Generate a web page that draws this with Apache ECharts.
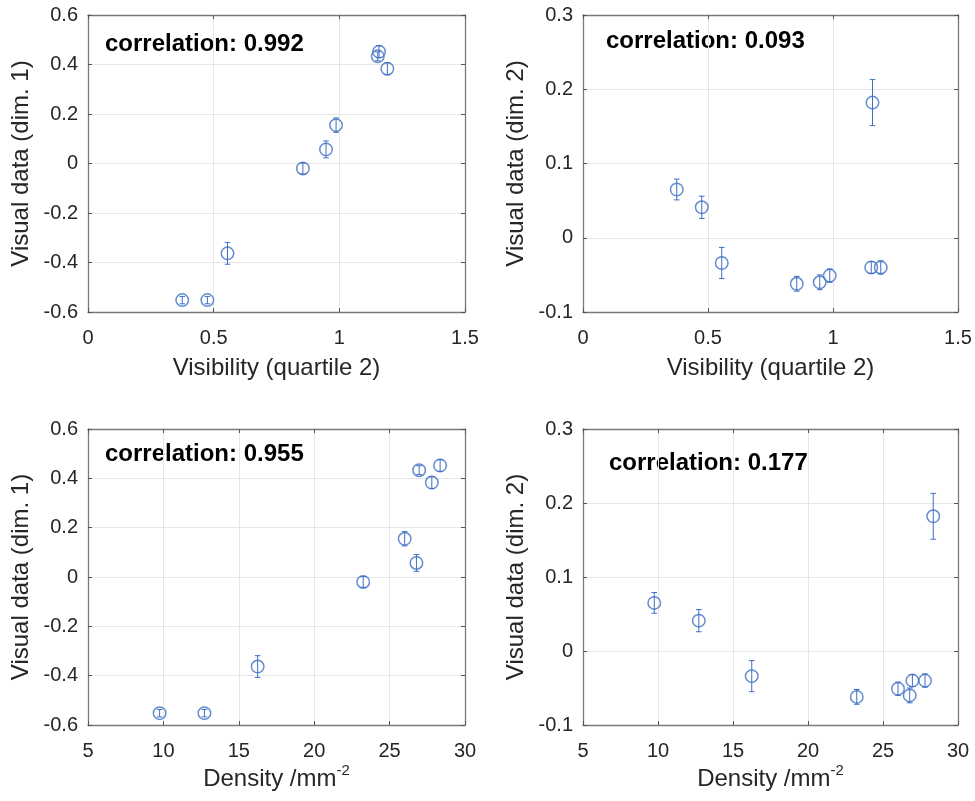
<!DOCTYPE html>
<html>
<head>
<meta charset="utf-8">
<script src="https://cdn.jsdelivr.net/npm/echarts@6/dist/echarts.min.js"></script>
<style>
html, body { margin:0; padding:0; background:#fff; }
#main { width:975px; height:801px; }
</style>
</head>
<body>
<div id="main"></div>
<script type="text/javascript">
// values (9 samples)
var visibility = [0.375, 0.475, 0.555, 0.855, 0.947, 0.987, 1.153, 1.158, 1.191];
var density    = [9.75, 12.72, 16.25, 23.25, 26.78, 26.0, 26.96, 28.35, 27.8];
var dim1       = [-0.552, -0.552, -0.363, -0.020, 0.057, 0.155, 0.433, 0.452, 0.383];
var dim1Err    = [0.015, 0.015, 0.044, 0.022, 0.034, 0.029, 0.018, 0.024, 0.024];
var dim2       = [0.065, 0.041, -0.034, -0.062, -0.060, -0.051, -0.040, 0.182, -0.040];
var dim2Err    = [0.014, 0.015, 0.021, 0.010, 0.010, 0.009, 0.008, 0.031, 0.009];
var corrLabels = ['correlation: 0.992', 'correlation: 0.093', 'correlation: 0.955', 'correlation: 0.177'];

var blue = '#3f6fc3';
var font = 'Liberation Sans, Arial, Helvetica, sans-serif';

// panel layout
var panels = [
    {x: visibility, y: dim1, e: dim1Err, xmin: 0, xmax: 1.5, xint: 0.5, ymin: -0.6, ymax: 0.6, yint: 0.2,
     xname: 'Visibility (quartile 2)', yname: 'Visual data (dim. 1)',
     grid: {left: 88, top: 15, width: 377, height: 297}, text: [105, 43]},
    {x: visibility, y: dim2, e: dim2Err, xmin: 0, xmax: 1.5, xint: 0.5, ymin: -0.1, ymax: 0.3, yint: 0.1,
     xname: 'Visibility (quartile 2)', yname: 'Visual data (dim. 2)',
     grid: {left: 583, top: 15, width: 375, height: 297}, text: [606, 40]},
    {x: density, y: dim1, e: dim1Err, xmin: 5, xmax: 30, xint: 5, ymin: -0.6, ymax: 0.6, yint: 0.2,
     xname: 'Density /mm{sup|-2}', yname: 'Visual data (dim. 1)',
     grid: {left: 88, top: 429, width: 377, height: 296}, text: [105, 453]},
    {x: density, y: dim2, e: dim2Err, xmin: 5, xmax: 30, xint: 5, ymin: -0.1, ymax: 0.3, yint: 0.1,
     xname: 'Density /mm{sup|-2}', yname: 'Visual data (dim. 2)',
     grid: {left: 583, top: 429, width: 375, height: 296}, text: [609, 462]}
];

function errorBar(params, api) {
    var x = api.value(0), y = api.value(1), e = api.value(2);
    var hi = api.coord([x, y + e]);
    var lo = api.coord([x, y - e]);
    var w = 2.8;
    var st = {stroke: blue, lineWidth: 1};
    return {
        type: 'group',
        children: [
            {type: 'line', shape: {x1: hi[0], y1: hi[1], x2: lo[0], y2: lo[1]}, style: st},
            {type: 'line', shape: {x1: hi[0] - w, y1: hi[1], x2: hi[0] + w, y2: hi[1]}, style: st},
            {type: 'line', shape: {x1: lo[0] - w, y1: lo[1], x2: lo[0] + w, y2: lo[1]}, style: st}
        ]
    };
}

var grids = [], xAxes = [], yAxes = [], series = [], graphics = [];
var axisLine = {show: true, onZero: false, lineStyle: {color: '#7a7a7a', width: 1.3}};
var tick = {show: true, inside: true, length: 4, lineStyle: {color: '#555'}};
var lab = {color: '#262626', fontSize: 20, fontFamily: font};
var split = {show: true, lineStyle: {color: '#e6e6e6', width: 1}};

panels.forEach(function (p, i) {
    grids.push(p.grid);
    // bottom and top x axes (top one only for the box and ticks)
    xAxes.push({
        type: 'value', gridIndex: i, min: p.xmin, max: p.xmax, interval: p.xint,
        axisLine: axisLine, axisTick: tick, splitLine: split,
        axisLabel: Object.assign({margin: 16}, lab),
        name: p.xname, nameLocation: 'middle', nameGap: i < 2 ? 44 : 38,
        nameTextStyle: {color: '#262626', fontSize: 24, fontFamily: font,
            rich: {sup: {fontSize: 15, fontFamily: font, color: '#262626', padding: [0, 0, 18, 0]}}}
    });
    xAxes.push({
        type: 'value', gridIndex: i, position: 'top', min: p.xmin, max: p.xmax, interval: p.xint,
        axisLine: axisLine, axisTick: tick, splitLine: {show: false}, axisLabel: {show: false}
    });
    yAxes.push({
        type: 'value', gridIndex: i, min: p.ymin, max: p.ymax, interval: p.yint,
        axisLine: axisLine, axisTick: tick, splitLine: split,
        axisLabel: Object.assign({margin: 10}, lab),
        name: p.yname, nameLocation: 'middle', nameGap: 55,
        nameTextStyle: {color: '#262626', fontSize: 24, fontFamily: font}
    });
    yAxes.push({
        type: 'value', gridIndex: i, position: 'right', min: p.ymin, max: p.ymax, interval: p.yint,
        axisLine: axisLine, axisTick: tick, splitLine: {show: false}, axisLabel: {show: false}
    });

    var pts = p.x.map(function (v, k) { return [v, p.y[k], p.e[k]]; });
    series.push({
        type: 'scatter', xAxisIndex: 2 * i, yAxisIndex: 2 * i, data: pts,
        symbol: 'circle', symbolSize: 12.5,
        itemStyle: {color: 'rgba(0,0,0,0)', borderColor: blue, borderWidth: 1.5},
        encode: {x: 0, y: 1}, z: 3
    });
    series.push({
        type: 'custom', xAxisIndex: 2 * i, yAxisIndex: 2 * i, data: pts,
        renderItem: errorBar, encode: {x: 0, y: 1}, z: 4
    });

    graphics.push({
        type: 'text', left: p.text[0], top: p.text[1] - 11,
        style: {text: corrLabels[i], fill: '#000', font: 'bold 24px ' + font}
    });
});

var myChart = echarts.init(document.getElementById('main'));
myChart.setOption({
    animation: false,
    backgroundColor: '#fff',
    grid: grids,
    xAxis: xAxes,
    yAxis: yAxes,
    series: series,
    graphic: graphics
});
</script>
</body>
</html>
